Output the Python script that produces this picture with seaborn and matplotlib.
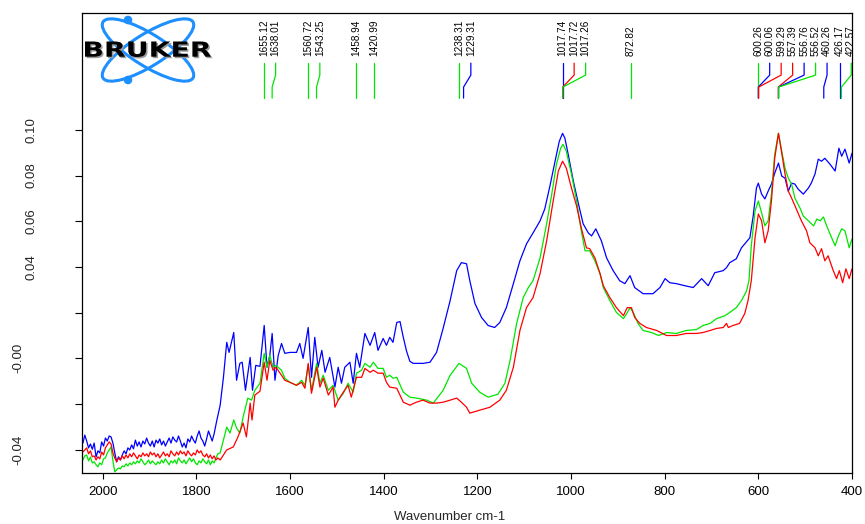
import numpy as np
import pandas as pd
import matplotlib
matplotlib.use("Agg")
import matplotlib.pyplot as plt
import seaborn as sns
from matplotlib.patches import Ellipse, Circle, PathPatch
from matplotlib.textpath import TextPath
from matplotlib.font_manager import FontProperties
from matplotlib.transforms import blended_transform_factory, Affine2D

# ---- spectra (wavenumber cm-1 / absorbance)
blue_wn = [2042, 2038, 2034, 2030, 2026, 2022, 2018, 2014, 2010, 2006,
           2002, 1998, 1994, 1990, 1986, 1982, 1978, 1974, 1970, 1966,
           1962, 1958, 1954, 1950, 1946, 1942, 1938, 1934, 1930, 1926,
           1922, 1918, 1914, 1910, 1906, 1902, 1898, 1894, 1890, 1886,
           1882, 1878, 1874, 1870, 1866, 1862, 1858, 1854, 1850, 1846,
           1842, 1838, 1834, 1830, 1826, 1822, 1818, 1814, 1810, 1806,
           1802, 1798, 1794, 1790, 1786, 1782, 1778, 1774, 1770, 1766,
           1762,
           1756, 1749, 1742,
           1735, 1730, 1724, 1720, 1714, 1707, 1702, 1695, 1685, 1680, 1673, 1664, 1655, 1649, 1643,
           1638, 1632, 1625, 1618, 1611, 1600, 1586, 1579, 1572, 1561, 1554, 1547, 1540, 1532, 1525,
           1515, 1504, 1497, 1490, 1483, 1472, 1465, 1458, 1451, 1440, 1429, 1419, 1412, 1401, 1394,
           1387, 1380, 1372, 1365, 1358, 1351, 1344, 1337, 1316, 1301, 1287, 1273, 1258, 1244, 1234,
           1223, 1216, 1205, 1191, 1177, 1163, 1152, 1138, 1123, 1109, 1095, 1081, 1066, 1056, 1045,
           1034, 1025, 1018, 1013, 1006, 995, 984, 974, 963, 956, 947, 935, 924, 910, 896,
           885, 874, 864, 846, 825, 810, 799, 789, 775, 757, 739, 721, 707, 693, 675,
           668, 661, 647, 636, 629, 618, 611, 604, 600, 593, 586, 579, 572, 565, 557,
           550, 543, 536, 529, 522, 515, 504, 493, 487, 479, 472, 465, 458, 447, 436,
           428, 422, 415, 406, 400]
blue_abs = [-0.0371, -0.0336, -0.0362, -0.0392, -0.0375, -0.0398, -0.0371, -0.0432, -0.0405, -0.0414,
            -0.0366, -0.0384, -0.0349, -0.0362, -0.0340, -0.0344, -0.0371, -0.0414, -0.0453, -0.0431,
            -0.0445, -0.0423, -0.0405, -0.0418, -0.0392, -0.0401, -0.0379, -0.0396, -0.0358, -0.0384,
            -0.0366, -0.0388, -0.0362, -0.0375, -0.0349, -0.0371, -0.0384, -0.0362, -0.0388, -0.0358,
            -0.0371, -0.0353, -0.0379, -0.0362, -0.0384, -0.0366, -0.0349, -0.0371, -0.0344, -0.0358,
            -0.0366, -0.0340, -0.0362, -0.0388, -0.0371, -0.0392, -0.0353, -0.0366, -0.0340, -0.0358,
            -0.0371, -0.0340, -0.0318, -0.0349, -0.0362, -0.0384, -0.0353, -0.0318, -0.0340, -0.0362,
            -0.0331,
            -0.0270, -0.0205, -0.0083,
            0.0070, 0.0026, 0.0078, 0.0113, -0.0096, -0.0022, -0.0017, -0.0140, 0.0004, -0.0140,
            -0.0031, -0.0035, 0.0144, -0.0039, 0.0013, 0.0109, -0.0096, 0.0013, 0.0065, 0.0022,
            0.0026, 0.0026, 0.0065, 0.0000, 0.0135, -0.0083, 0.0092, -0.0039, 0.0035, -0.0061,
            0.0004, -0.0126, -0.0039, -0.0109, -0.0039, -0.0017, -0.0109, 0.0022, -0.0039, 0.0109,
            0.0057, 0.0113, 0.0035, 0.0087, 0.0057, 0.0092, 0.0070, 0.0157, 0.0161, 0.0092,
            0.0031, -0.0013, -0.0022, -0.0022, -0.0017, 0.0026, 0.0131, 0.0253, 0.0384, 0.0419,
            0.0414, 0.0340, 0.0240, 0.0179, 0.0144, 0.0135, 0.0157, 0.0222, 0.0327, 0.0427,
            0.0501, 0.0549, 0.0602, 0.0654, 0.0754, 0.0863, 0.0950, 0.0985, 0.0964, 0.0894,
            0.0776, 0.0676, 0.0589, 0.0549, 0.0536, 0.0567, 0.0514, 0.0440, 0.0384, 0.0340,
            0.0327, 0.0362, 0.0310, 0.0283, 0.0283, 0.0310, 0.0349, 0.0331, 0.0327, 0.0318,
            0.0310, 0.0349, 0.0318, 0.0375, 0.0384, 0.0397, 0.0419, 0.0436, 0.0484, 0.0501,
            0.0528, 0.0623, 0.0746, 0.0767, 0.0719, 0.0698, 0.0732, 0.0763, 0.0811, 0.0855,
            0.0798, 0.0789, 0.0732, 0.0767, 0.0763, 0.0741, 0.0719, 0.0746, 0.0767, 0.0807,
            0.0872, 0.0863, 0.0876, 0.0850, 0.0820, 0.0920, 0.0885, 0.0916, 0.0855, 0.0898]

green_wn = [2042, 2038, 2034, 2030, 2026, 2022, 2018, 2014, 2010, 2006,
            2002, 1998, 1994, 1990, 1986, 1982, 1978, 1974, 1970, 1966,
            1962, 1958, 1954, 1950, 1946, 1942, 1938, 1934, 1930, 1926,
            1922, 1918, 1914, 1910, 1906, 1902, 1898, 1894, 1890, 1886,
            1882, 1878, 1874, 1870, 1866, 1862, 1858, 1854, 1850, 1846,
            1842, 1838, 1834, 1830, 1826, 1822, 1818, 1814, 1810, 1806,
            1802, 1798, 1794, 1790, 1786, 1782, 1778, 1774, 1770, 1766,
            1762, 1758, 1754,
            1749, 1742, 1735, 1728, 1720, 1714, 1707,
            1700, 1690, 1682, 1675, 1664, 1655, 1649, 1643, 1636, 1630, 1618, 1611, 1600, 1586, 1575,
            1568, 1561, 1554, 1543, 1536, 1529, 1518, 1508, 1497, 1486, 1476, 1465, 1458, 1447, 1440,
            1429, 1422, 1412, 1401, 1394, 1387, 1380, 1372, 1358, 1344, 1330, 1308, 1294, 1273, 1258,
            1239, 1223, 1212, 1195, 1177, 1156, 1141, 1130, 1116, 1102, 1091, 1081, 1066, 1052, 1041,
            1031, 1022, 1017, 1010, 999, 988, 978, 970, 960, 949, 938, 931, 917, 903, 888,
            881, 874, 867, 857, 846, 828, 813, 796, 775, 754, 732, 718, 703, 689, 671,
            661, 647, 636, 625, 620, 615, 607, 600, 593, 586, 579, 572, 565, 557, 550,
            543, 536, 529, 522, 511, 504, 493, 482, 475, 468, 461, 454, 447, 436, 429,
            422, 415, 406, 400]
green_abs = [-0.0445, -0.0427, -0.0423, -0.0449, -0.0432, -0.0458, -0.0453, -0.0466, -0.0475, -0.0458,
             -0.0466, -0.0440, -0.0436, -0.0414, -0.0401, -0.0388, -0.0449, -0.0497, -0.0488, -0.0480,
             -0.0484, -0.0471, -0.0475, -0.0462, -0.0471, -0.0458, -0.0466, -0.0453, -0.0462, -0.0449,
             -0.0458, -0.0440, -0.0453, -0.0466, -0.0458, -0.0445, -0.0462, -0.0449, -0.0458, -0.0466,
             -0.0453, -0.0462, -0.0445, -0.0458, -0.0440, -0.0453, -0.0466, -0.0449, -0.0458, -0.0445,
             -0.0462, -0.0436, -0.0449, -0.0458, -0.0445, -0.0462, -0.0449, -0.0436, -0.0453, -0.0440,
             -0.0458, -0.0466, -0.0449, -0.0458, -0.0440, -0.0453, -0.0462, -0.0445, -0.0466, -0.0449,
             -0.0458, -0.0436, -0.0418,
             -0.0414, -0.0358, -0.0301, -0.0327, -0.0270, -0.0305, -0.0327,
             -0.0257, -0.0174, -0.0183, -0.0140, -0.0109, 0.0022, -0.0039, 0.0013, -0.0039, -0.0031,
             -0.0052, -0.0087, -0.0105, -0.0118, -0.0096, -0.0118, -0.0031, -0.0140, -0.0022, -0.0109,
             -0.0074, -0.0140, -0.0118, -0.0183, -0.0153, -0.0109, -0.0148, -0.0065, -0.0052, -0.0022,
             -0.0039, -0.0017, -0.0044, -0.0044, -0.0083, -0.0074, -0.0087, -0.0083, -0.0148, -0.0170,
             -0.0174, -0.0183, -0.0196, -0.0140, -0.0074, -0.0022, -0.0044, -0.0109, -0.0148, -0.0170,
             -0.0157, -0.0109, -0.0009, 0.0153, 0.0266, 0.0310, 0.0340, 0.0440, 0.0589, 0.0719,
             0.0850, 0.0920, 0.0937, 0.0907, 0.0807, 0.0689, 0.0558, 0.0471, 0.0471, 0.0427,
             0.0371, 0.0310, 0.0253, 0.0201, 0.0174, 0.0196, 0.0222, 0.0201, 0.0153, 0.0122,
             0.0113, 0.0100, 0.0113, 0.0109, 0.0122, 0.0126, 0.0144, 0.0153, 0.0174, 0.0187,
             0.0201, 0.0222, 0.0253, 0.0296, 0.0340, 0.0493, 0.0645, 0.0689, 0.0637, 0.0580,
             0.0602, 0.0719, 0.0894, 0.0985, 0.0907, 0.0833, 0.0789, 0.0763, 0.0702, 0.0658,
             0.0623, 0.0602, 0.0580, 0.0610, 0.0602, 0.0619, 0.0580, 0.0545, 0.0493, 0.0536,
             0.0567, 0.0558, 0.0484, 0.0523]

red_wn = [2042, 2038, 2034, 2030, 2026, 2022, 2018, 2014, 2010, 2006,
          2002, 1998, 1994, 1990, 1986, 1982, 1978, 1974, 1970, 1966,
          1962, 1958, 1954, 1950, 1946, 1942, 1938, 1934, 1930, 1926,
          1922, 1918, 1914, 1910, 1906, 1902, 1898, 1894, 1890, 1886,
          1882, 1878, 1874, 1870, 1866, 1862, 1858, 1854, 1850, 1846,
          1842, 1838, 1834, 1830, 1826, 1822, 1818, 1814, 1810, 1806,
          1802, 1798, 1794, 1790, 1786, 1782, 1778, 1774, 1770, 1766,
          1762, 1758, 1754,
          1749, 1735, 1721, 1711, 1700, 1693, 1685,
          1681, 1675, 1664, 1655, 1649, 1643, 1636, 1630, 1618, 1611, 1600, 1586, 1575, 1568, 1561,
          1554, 1543, 1536, 1529, 1518, 1508, 1504, 1497, 1486, 1476, 1469, 1458, 1447, 1440, 1429,
          1422, 1412, 1401, 1394, 1387, 1372, 1358, 1344, 1330, 1316, 1301, 1287, 1273, 1258, 1244,
          1234, 1223, 1216, 1195, 1173, 1152, 1138, 1123, 1109, 1095, 1081, 1066, 1052, 1038, 1027,
          1018, 1010, 999, 988, 978, 967, 960, 949, 938, 931, 917, 903, 888, 880, 871,
          864, 853, 839, 817, 796, 775, 754, 732, 718, 703, 689, 675, 668, 664, 654,
          640, 629, 622, 615, 607, 600, 593, 586, 579, 572, 565, 557, 550, 543, 536,
          529, 519, 508, 497, 490, 479, 472, 465, 458, 451, 440, 433, 427, 420, 413,
          406, 400]
red_abs = [-0.0410, -0.0401, -0.0392, -0.0418, -0.0405, -0.0431, -0.0427, -0.0445, -0.0431, -0.0440,
           -0.0410, -0.0423, -0.0392, -0.0379, -0.0366, -0.0375, -0.0414, -0.0436, -0.0453, -0.0436,
           -0.0445, -0.0427, -0.0440, -0.0423, -0.0436, -0.0418, -0.0431, -0.0414, -0.0427, -0.0440,
           -0.0423, -0.0431, -0.0414, -0.0427, -0.0418, -0.0431, -0.0410, -0.0423, -0.0414, -0.0431,
           -0.0418, -0.0436, -0.0423, -0.0410, -0.0427, -0.0418, -0.0431, -0.0405, -0.0418, -0.0427,
           -0.0410, -0.0423, -0.0405, -0.0418, -0.0410, -0.0427, -0.0405, -0.0418, -0.0427, -0.0414,
           -0.0423, -0.0401, -0.0414, -0.0405, -0.0423, -0.0431, -0.0418, -0.0436, -0.0423, -0.0440,
           -0.0427, -0.0445, -0.0436,
           -0.0445, -0.0401, -0.0388, -0.0344, -0.0283, -0.0344, -0.0196,
           -0.0270, -0.0161, -0.0144, -0.0017, -0.0096, -0.0009, -0.0052, -0.0039, -0.0074, -0.0096,
           -0.0105, -0.0118, -0.0105, -0.0131, -0.0022, -0.0153, -0.0039, -0.0126, -0.0087, -0.0161,
           -0.0126, -0.0214, -0.0183, -0.0148, -0.0118, -0.0170, -0.0083, -0.0083, -0.0044, -0.0061,
           -0.0052, -0.0065, -0.0065, -0.0105, -0.0126, -0.0131, -0.0192, -0.0205, -0.0192, -0.0183,
           -0.0196, -0.0196, -0.0192, -0.0183, -0.0174, -0.0192, -0.0214, -0.0240, -0.0227, -0.0214,
           -0.0183, -0.0140, -0.0039, 0.0122, 0.0222, 0.0266, 0.0371, 0.0514, 0.0689, 0.0820,
           0.0863, 0.0833, 0.0746, 0.0667, 0.0571, 0.0484, 0.0480, 0.0440, 0.0371, 0.0318,
           0.0266, 0.0222, 0.0187, 0.0222, 0.0222, 0.0179, 0.0153, 0.0135, 0.0122, 0.0100,
           0.0100, 0.0109, 0.0109, 0.0113, 0.0122, 0.0131, 0.0135, 0.0153, 0.0135, 0.0144,
           0.0153, 0.0196, 0.0253, 0.0340, 0.0528, 0.0632, 0.0602, 0.0506, 0.0558, 0.0689,
           0.0876, 0.0985, 0.0898, 0.0807, 0.0732, 0.0702, 0.0654, 0.0602, 0.0558, 0.0506,
           0.0484, 0.0449, 0.0480, 0.0427, 0.0449, 0.0384, 0.0349, 0.0384, 0.0331, 0.0392,
           0.0349, 0.0392]

# ---- peak picks
peak_wn = [1655.12, 1638.01, 1560.72, 1543.25, 1458.94, 1420.99, 1238.31, 1229.31,
           1017.74, 1017.72, 1017.26, 872.82, 600.26, 600.06, 599.29, 557.39, 556.76,
           556.52, 460.26, 426.17, 422.57]
peak_series = ["green", "green", "green", "green", "green", "green", "green", "blue",
               "blue", "red", "green", "green", "green", "blue", "red", "red", "blue",
               "green", "blue", "blue", "green"]

x_ticks = [2000, 1800, 1600, 1400, 1200, 1000, 800, 600, 400]
y_ticks = [-0.04, -0.02, 0.00, 0.02, 0.04, 0.06, 0.08, 0.10]
y_tick_labels = ["-0.04", "", "-0.00", "", "0.04", "0.06", "0.08", "0.10"]

colors = {"blue": "#0000ff", "green": "#00e600", "red": "#ff0000"}

frames = []
for name, wn, ab in [("blue", blue_wn, blue_abs), ("green", green_wn, green_abs), ("red", red_wn, red_abs)]:
    frames.append(pd.DataFrame({"wn": wn, "abs": ab, "series": name}))
df = pd.concat(frames, ignore_index=True)

sns.set_theme(style="white")
plt.rcParams["font.family"] = ["Liberation Sans", "DejaVu Sans"]

fig = plt.figure(figsize=(8.65, 5.24), dpi=100)
ax = fig.add_axes([82 / 865, 51 / 524, 770 / 865, 460 / 524])

sns.lineplot(data=df, x="wn", y="abs", hue="series", hue_order=["blue", "green", "red"],
             palette=colors, estimator=None, linewidth=0.9, legend=False, ax=ax)

ax.set_xlim(2044, 400)
ax.set_ylim(-0.0502, 0.1512)
ax.set_xticks(x_ticks)
ax.set_xticklabels([str(t) for t in x_ticks], fontsize=9.5)
ax.set_yticks(y_ticks)
ax.set_yticklabels([])
ax.tick_params(axis="x", direction="out", length=4.5, width=0.8, pad=5, colors="black", bottom=True)
ax.tick_params(axis="y", direction="out", length=5, width=0.8, colors="black", left=True)
ax.set_xlabel("")
ax.set_ylabel("")
for sp in ax.spines.values():
    sp.set_color("black")
    sp.set_linewidth(0.9)

# y labels, rotated, negative ones sit further left
ytr = blended_transform_factory(ax.transAxes, ax.transData)
for v, lab in zip(y_ticks, y_tick_labels):
    if lab == "":
        continue
    xpos = -0.083 if lab.startswith("-") else -0.066
    ax.text(xpos, v, lab, transform=ytr, rotation=90, ha="center", va="center", fontsize=9.5)

ax.text(0.478, -0.096, "Wavenumber cm-1", transform=ax.transAxes, ha="center", va="center", fontsize=9.5)

# peak labels and pick lines
ptr = blended_transform_factory(ax.transData, ax.transAxes)
spacing = 24.5
prev = None
for wn, s in zip(peak_wn, peak_series):
    lx = wn if prev is None else min(wn, prev - spacing)
    prev = lx
    ax.plot([lx, lx, wn, wn], [0.891, 0.865, 0.839, 0.815], transform=ptr,
            color=colors[s], linewidth=0.9)
    ax.text(lx, 0.907, f"{wn:.2f}", transform=ptr, rotation=90, ha="center", va="bottom",
            fontsize=7.2, color="black")

# Bruker logo
lax = fig.add_axes([82 / 865, (524 - 88) / 524, 133 / 865, 75 / 524])
lax.set_xlim(82, 215)
lax.set_ylim(88, 13)
lax.axis("off")
logo_blue = "#1e8fff"
for ang in (32, -32):
    lax.add_patch(Ellipse((148, 50), 106, 32, angle=ang, fill=False, edgecolor=logo_blue, linewidth=2.2))
lax.add_patch(Circle((128, 20), 3.6, color=logo_blue))
lax.add_patch(Circle((128, 80), 3.6, color=logo_blue))
tp = TextPath((0, 0), "BRUKER", size=1, prop=FontProperties(family="DejaVu Sans", weight="bold"))
bb = tp.get_extents()
tf = Affine2D().translate(-bb.x0, -bb.y0).scale(126 / bb.width, -15.5 / bb.height)
shadow = tf.transform_path(tp)
lax.add_patch(PathPatch(Affine2D().translate(86.5, 58.5).transform_path(shadow), color="#9a9a9a", lw=0))
lax.add_patch(PathPatch(Affine2D().translate(85, 57).transform_path(shadow), color="black", lw=0))

plt.savefig("out.png", dpi=100)
plt.close("all")
